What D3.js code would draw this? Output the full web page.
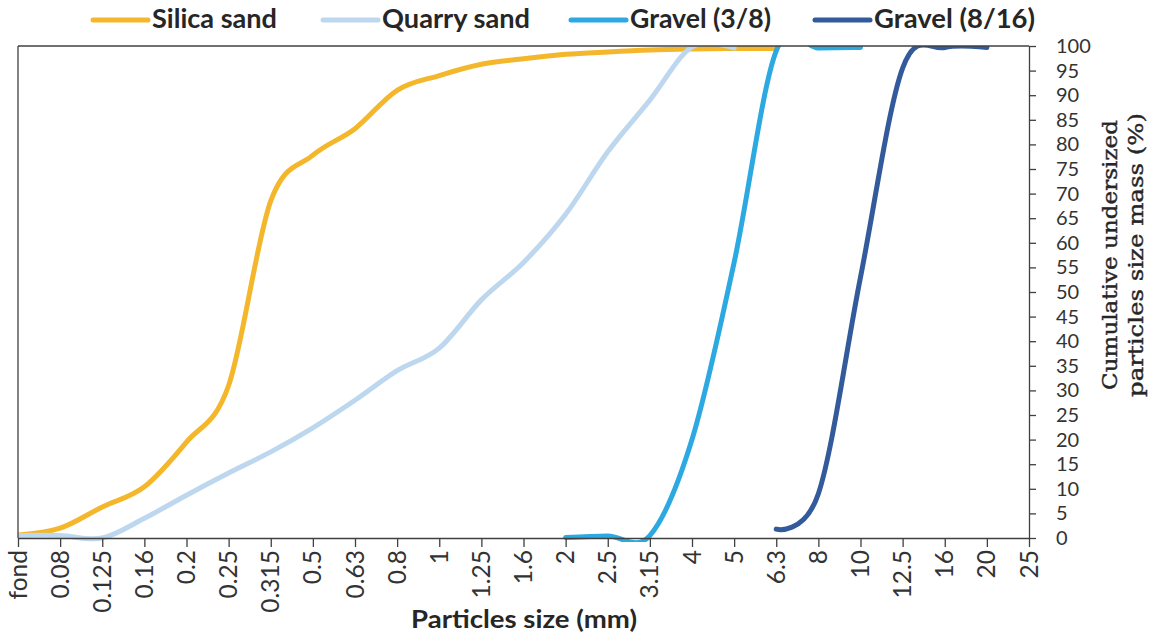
<!DOCTYPE html>
<html>
<head>
<meta charset="utf-8">
<script src="https://cdn.jsdelivr.net/npm/d3@7"></script>
<style>
  html, body { margin: 0; padding: 0; background: #ffffff; }
  svg { display: block; }
</style>
</head>
<body>
<svg id="chart" width="1151" height="635"></svg>
<script>
// Sieve sizes (mm) on the x axis, in sieve order
const categories = ["fond", "0.08", "0.125", "0.16", "0.2", "0.25", "0.315", "0.5", "0.63", "0.8",
  "1", "1.25", "1.6", "2", "2.5", "3.15", "4", "5", "6.3", "8", "10", "12.5", "16", "20", "25"];

// Cumulative passing (%) per sieve; null where a material was not sieved
const silicaSand = [0.6, 2, 6.3, 10.4, 19.5, 31, 68.5, 77.8, 83.2, 91, 94, 96.3, 97.4, 98.3, 98.8, 99.2, 99.4, 99.5, 99.5,
  null, null, null, null, null, null];
const quarrySand = [0.5, 0.5, 0, 4, 8.7, 13.2, 17.5, 22.4, 28, 34, 38.6, 48.4, 56, 65.8, 78.5, 89, 99.8, 99.6,
  null, null, null, null, null, null, null];
const gravel38 = [null, null, null, null, null, null, null, null, null, null, null, null, null,
  0.1, 0.4, 0.5, 20, 56, 99, 99.6, 99.7, null, null, null, null];
const gravel816 = [null, null, null, null, null, null, null, null, null, null, null, null, null, null, null, null, null, null,
  1.8, 9, 53, 95.5, 99.7, 99.7, null];

const yTicks = d3.range(0, 101, 5);

const seriesNames = ["Silica sand", "Quarry sand", "Gravel (3/8)", "Gravel (8/16)"];
const seriesValues = [silicaSand, quarrySand, gravel38, gravel816];
const seriesColors = ["#F4B72C", "#BDD7EE", "#2CA9E1", "#335B9B"];

const svg = d3.select("#chart");
const plot = { left: 18, right: 1029, top: 46, bottom: 538 };
const sans = "Lato, 'Open Sans', sans-serif";

const x = d3.scalePoint().domain(categories).range([plot.left, plot.right]).padding(0);
const y = d3.scaleLinear().domain([0, 100]).range([plot.bottom, plot.top]);

// Lines are clipped to the plot area, like the spreadsheet plot frame
svg.append("defs").append("clipPath").attr("id", "plotClip")
  .append("rect")
  .attr("x", plot.left).attr("y", plot.top)
  .attr("width", plot.right - plot.left).attr("height", plot.bottom - plot.top + 4);

const line = d3.line()
  .defined(d => d.v !== null)
  .x(d => x(d.c))
  .y(d => y(d.v))
  .curve(d3.curveCardinal.tension(0));

const linesG = svg.append("g").attr("clip-path", "url(#plotClip)");
seriesValues.forEach((vals, i) => {
  const pts = categories.map((c, k) => ({ c: c, v: vals[k] }));
  linesG.append("path")
    .datum(pts)
    .attr("fill", "none")
    .attr("stroke", seriesColors[i])
    .attr("stroke-width", 5)
    .attr("stroke-linecap", "round")
    .attr("stroke-linejoin", "round")
    .attr("d", line);
});

// Plot frame: top and left edges
const axisColor = "#404040";
svg.append("line")
  .attr("x1", plot.left).attr("x2", plot.right)
  .attr("y1", plot.top).attr("y2", plot.top)
  .attr("stroke", axisColor).attr("stroke-width", 1.3);
svg.append("line")
  .attr("x1", plot.left).attr("x2", plot.left)
  .attr("y1", plot.top).attr("y2", plot.bottom)
  .attr("stroke", axisColor).attr("stroke-width", 1.3);

// Bottom axis with rotated sieve labels
const xAxis = svg.append("g")
  .attr("transform", `translate(0,${plot.bottom})`)
  .call(d3.axisBottom(x).tickSize(9).tickSizeOuter(0).tickFormat(""));
xAxis.select(".domain").attr("stroke", axisColor).attr("stroke-width", 1.3);
xAxis.selectAll(".tick line").attr("stroke", axisColor).attr("stroke-width", 1.3);

svg.append("g").selectAll("text")
  .data(categories)
  .join("text")
  .attr("transform", d => `translate(${x(d)},${plot.bottom + 12}) rotate(-90)`)
  .attr("text-anchor", "end")
  .attr("dy", "0.35em")
  .attr("font-family", sans)
  .attr("font-size", 24.5)
  .attr("fill", "#333333")
  .text(d => d);

// Right value axis
const yAxis = svg.append("g")
  .attr("transform", `translate(${plot.right},0)`)
  .call(d3.axisRight(y).tickValues(yTicks).tickSize(7).tickSizeOuter(0).tickPadding(20));
yAxis.select(".domain").attr("stroke", axisColor).attr("stroke-width", 1.3);
yAxis.selectAll(".tick line").attr("stroke", axisColor).attr("stroke-width", 1.3);
yAxis.selectAll(".tick text")
  .attr("font-family", sans)
  .attr("font-size", 20)
  .attr("fill", "#333333");

// Axis titles
svg.append("text")
  .attr("x", 524).attr("y", 628)
  .attr("text-anchor", "middle")
  .attr("font-family", sans)
  .attr("font-weight", 700)
  .attr("font-size", 24)
  .attr("fill", "#262626")
  .attr("textLength", 226)
  .attr("lengthAdjust", "spacingAndGlyphs")
  .text("Particles size (mm)");

const yTitle = [
  { text: "Cumulative undersized", x: 1117, len: 270 },
  { text: "particles size mass (%)", x: 1143, len: 284 }
];
svg.append("g").selectAll("text")
  .data(yTitle)
  .join("text")
  .attr("transform", d => `translate(${d.x},255) rotate(-90)`)
  .attr("text-anchor", "middle")
  .attr("font-family", "'DejaVu Serif', serif")
  .attr("font-weight", 400)
  .attr("font-size", 20)
  .attr("fill", "#262626")
  .attr("stroke", "#262626")
  .attr("stroke-width", 0.4)
  .attr("textLength", d => d.len)
  .attr("lengthAdjust", "spacingAndGlyphs")
  .text(d => d.text);

// Legend across the top
const legendItems = [
  { x: 93, textLen: 125 },
  { x: 323, textLen: 148 },
  { x: 571, textLen: 141 },
  { x: 815, textLen: 161 }
];
const legend = svg.append("g").selectAll("g")
  .data(seriesNames)
  .join("g")
  .attr("transform", (d, i) => `translate(${legendItems[i].x},0)`);
legend.append("line")
  .attr("x1", 0).attr("x2", 55)
  .attr("y1", 20).attr("y2", 20)
  .attr("stroke", (d, i) => seriesColors[i])
  .attr("stroke-width", 5)
  .attr("stroke-linecap", "round");
legend.append("text")
  .attr("x", 59).attr("y", 28)
  .attr("font-family", sans)
  .attr("font-weight", 700)
  .attr("font-size", 26)
  .attr("fill", "#262626")
  .attr("textLength", (d, i) => legendItems[i].textLen)
  .attr("lengthAdjust", "spacingAndGlyphs")
  .text(d => d);
</script>
</body>
</html>
